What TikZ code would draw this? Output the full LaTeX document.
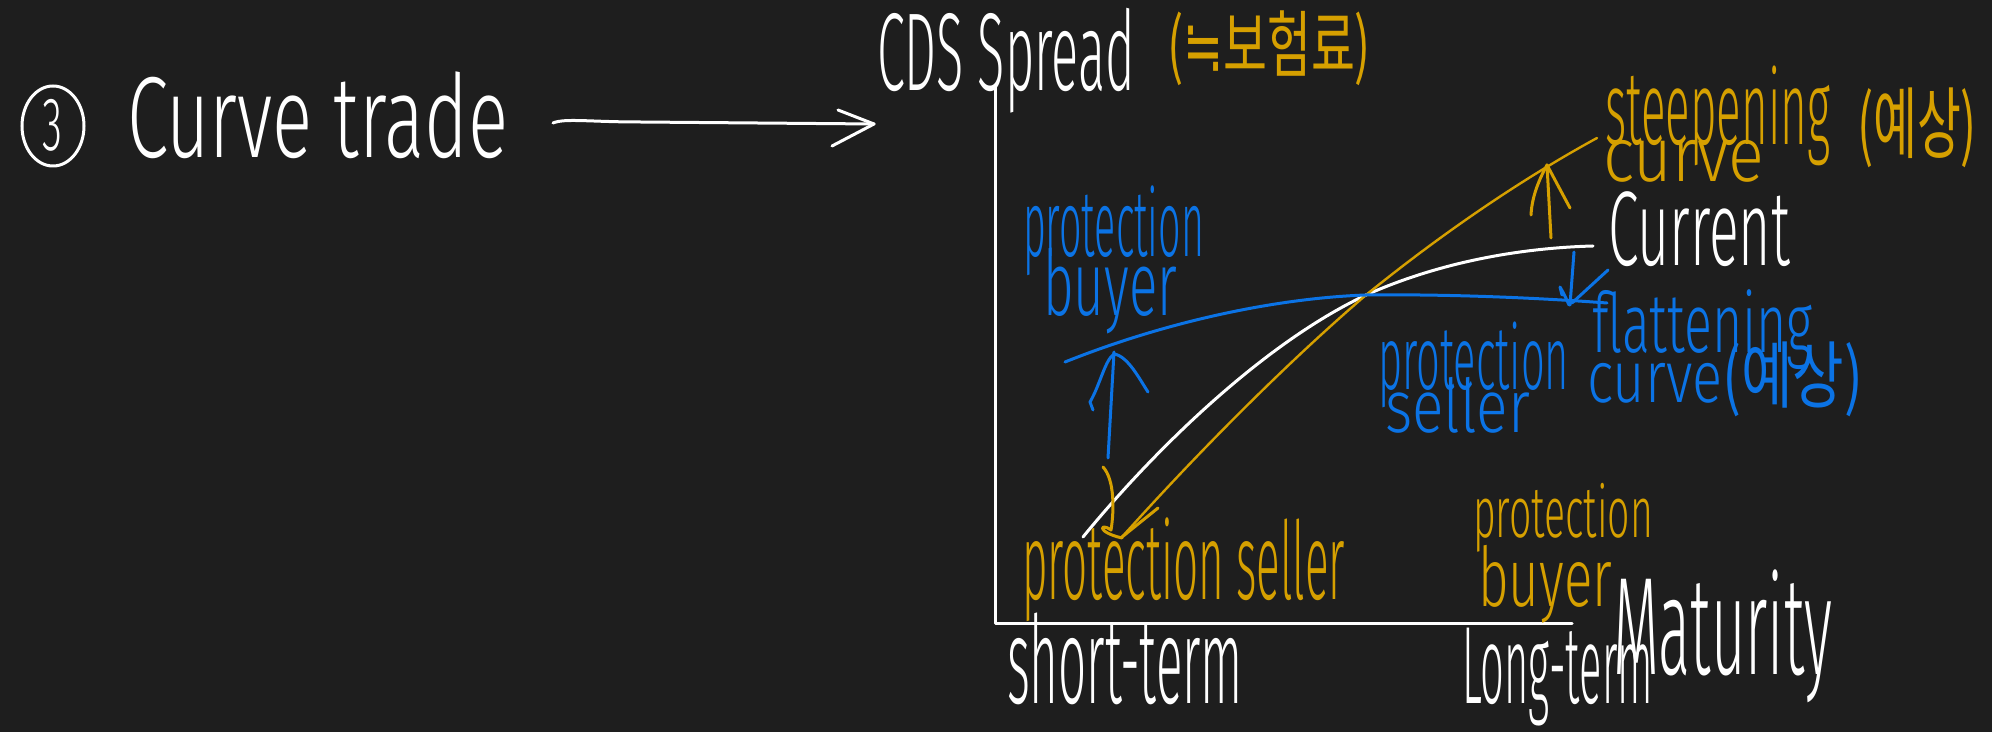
\documentclass[tikz,border=0pt]{standalone}
\usepackage{fontspec}
\usepackage{graphicx}
\setmainfont{Fira Sans}[UprightFont=* Light]
\newfontfamily\cjk{Noto Sans CJK KR}
\newfontfamily\symf{DejaVu Sans}
\usetikzlibrary{shapes.geometric}
\definecolor{bg}{HTML}{1E1E1E}
\definecolor{gold}{HTML}{D6A000}
\definecolor{blu}{HTML}{0B73E5}
\newdimen\px \px=0.5pt
\newcommand\hw[3]{\resizebox*{#1\px}{#2\px}{#3}}
\tikzset{
  txt/.style={inner sep=0pt, outer sep=0pt, anchor=north west},
  ln/.style={line width=1.5pt, line cap=round, line join=round},
  thin/.style={line width=1.2pt, line cap=round, line join=round},
}
\begin{document}
\begin{tikzpicture}[x=0.5pt,y=-0.5pt]
\fill[bg] (0,0) rectangle (1992,732);
\useasboundingbox (0,0) rectangle (1992,732);

% title
\node[draw=white, line width=1.5pt, ellipse, minimum width=62\px, minimum height=80\px, inner sep=0pt] (c3) at (53,126) {};
\node[txt,text=white] (three) at (42,99) {\hw{20}{52}{3}};
\node[txt,text=white] (title) at (127,72) {\hw{381}{87}{Curve trade}};

% arrow
\coordinate (a1) at (553,123);
\coordinate (a2) at (874,124);
\draw[ln,white] (a1) .. controls (565,118) and (590,122) .. (640,122) -- (a2);
\draw[ln,white] (838,110) -- (a2) -- (832,146);

% axes
\coordinate (ytop) at (995,85);
\coordinate (O) at (995,623);
\coordinate (xend) at (1572,623);
\draw[ln,white] (ytop) -- (O) -- (xend);

\node[txt,text=white] (ylab) at (877,8) {\hw{258}{105}{CDS Spread}};
\node[txt,text=gold] (ylab2) at (1167,11) {\hw{204}{75}{\cjk(\symf≒\cjk 보험료)}};
\node[txt,text=white] (st) at (1007,613) {\hw{236}{92}{short-term}};
\node[txt,text=white] (lt) at (1462,628) {\hw{191}{98}{Long-term}};
\node[txt,text=white] (mat) at (1613,570) {\hw{219}{133}{Maturity}};

% curves
\coordinate (cross) at (1366,295);
\draw[ln,white] (1083,537) .. controls (1150,455) and (1260,345) .. (cross) .. controls (1440,262) and (1520,248) .. (1593,246);
\draw[thin,gold] (1122,537) .. controls (1200,450) and (1290,360) .. (cross) .. controls (1440,235) and (1520,180) .. (1597,138);
\draw[ln,blu] (1065,362) .. controls (1170,320) and (1280,298) .. (cross) .. controls (1450,294) and (1540,298) .. (1607,303);

% blue up arrow (left)
\draw[ln,blu] (1108,458) -- (1114,352);
\draw[ln,blu] (1093,410) -- (1090,402) .. controls (1100,385) and (1105,360) .. (1114,354) .. controls (1128,356) and (1140,380) .. (1148,392);

% gold down arrow (left)
\draw[ln,gold] (1103,467) .. controls (1115,480) and (1114,512) .. (1111,530) .. controls (1100,522) and (1096,532) .. (1122,538);
\draw[ln,gold] (1158,508) -- (1122,537);

% gold up arrow (right)
\draw[ln,gold] (1551,238) -- (1547,165);
\draw[ln,gold] (1531,215) .. controls (1532,195) and (1540,178) .. (1547,165) .. controls (1555,180) and (1563,195) .. (1570,208);

% blue down arrow (right)
\draw[ln,blu] (1574,252) -- (1570,305);
\draw[ln,blu] (1562,295) -- (1560,287) .. controls (1563,292) and (1566,298) .. (1569,305);
\draw[ln,blu] (1608,270) -- (1572,303);

% labels
\node[txt,text=blu] (pb1) at (1023,186) {\hw{181}{90}{protection}};
\node[txt,text=blu] (pb2) at (1043,248) {\hw{134}{86}{buyer}};
\node[txt,text=blu] (ps1) at (1378,322) {\hw{191}{86}{protection}};
\node[txt,text=blu] (ps2) at (1385,377) {\hw{145}{56}{seller}};

\node[txt,text=gold] (gps) at (1022,518) {\hw{323}{104}{protection seller}};
\node[txt,text=gold] (gpb1) at (1473,483) {\hw{180}{69}{protection}};
\node[txt,text=gold] (gpb2) at (1478,545) {\hw{134}{78}{buyer}};

\node[txt,text=gold] (stp1) at (1605,66) {\hw{225}{100}{steepening}};
\node[txt,text=gold] (stp2) at (1603,140) {\hw{161}{42}{curve}};
\node[txt,text=gold] (stp3) at (1857,88) {\hw{120}{80}{\cjk(예상)}};

\node[txt,text=white] (cur) at (1608,192) {\hw{182}{75}{Current}};

\node[txt,text=blu] (fl1) at (1592,290) {\hw{221}{80}{flattening}};
\node[txt,text=blu] (fl2) at (1587,342) {\hw{276}{75}{curve{\cjk(예상)}}};
\end{tikzpicture}
\end{document}
